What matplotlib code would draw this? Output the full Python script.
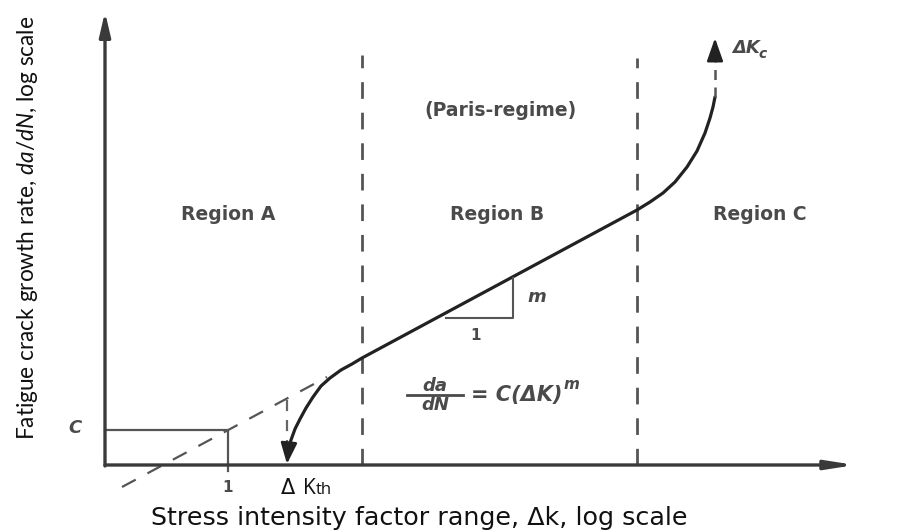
import matplotlib
matplotlib.use("Agg")
import matplotlib.pyplot as plt

# ---------------- schematic data (origin = axes intersection) ----------------
# main crack-growth curve (threshold -> Paris line -> fast fracture)
curve_x = [183, 184, 186, 190, 195, 201, 208, 216, 225, 236, 247, 257,
           532, 545, 558, 570, 582, 592, 600, 605, 608, 610]
curve_y = [12, 18, 25, 36, 46, 57, 68, 79, 87, 95, 101, 107,
           255, 263, 272, 283, 298, 314, 332, 347, 358, 368]
# extrapolated Paris line (dashed)
paris_ext_x = [17, 222]
paris_ext_y = [-22, 88]
# C at ΔK = 1
c_x = [0, 123, 123]
c_y = [35, 35, -6]
# region boundaries
boundary_ab_x = 257
boundary_bc_x = 532
boundary_top = [410, 407]
# threshold dashed marker
kth_x = 182
kth_y = [65, 4]
# ΔKc asymptote
kc_x = 610
kc_y = [368, 410]
# slope triangle
tri_x = [341, 408, 408]
tri_y = [147, 147, 187]

axis_x_end = 750
axis_y_end = 453

region_labels = ["Region A", "Region B", "Region C"]
region_x = [123, 392, 655]

plt.rcParams["mathtext.fontset"] = "custom"
plt.rcParams["mathtext.it"] = "Lato:italic"
plt.rcParams["mathtext.rm"] = "Lato"

fig = plt.figure(figsize=(9.23, 5.30), dpi=100)
ax = fig.add_axes([0, 0, 1, 1])
ax.set_xlim(-105, 818)
ax.set_ylim(-65, 465)
ax.axis("off")
fig.canvas.draw()
r = fig.canvas.get_renderer()


def right_edge(t):
    bb = t.get_window_extent(r)
    return ax.transData.inverted().transform((bb.x1, bb.y0))[0]


axc = "#3a3a3a"
# axes with arrows
ax.annotate("", xy=(axis_x_end, 0), xytext=(0, 0),
            arrowprops=dict(arrowstyle="-|>,head_length=1.4,head_width=0.22", lw=2.4,
                            color=axc, shrinkA=0, shrinkB=0, mutation_scale=12))
ax.annotate("", xy=(0, axis_y_end), xytext=(0, -1),
            arrowprops=dict(arrowstyle="-|>,head_length=1.2,head_width=0.28", lw=2.4,
                            color=axc, shrinkA=0, shrinkB=0, mutation_scale=12))

# region boundaries
dash = (0, (6, 5))
ax.plot([boundary_ab_x, boundary_ab_x], [0, boundary_top[0]], color="#555555",
        lw=2, linestyle=dash)
ax.plot([boundary_bc_x, boundary_bc_x], [0, boundary_top[1]], color="#555555",
        lw=2, linestyle=dash)

# C box
ax.plot(c_x, c_y, color="#555555", lw=1.6)
# extrapolation
ax.plot(paris_ext_x, paris_ext_y, color="#555555", lw=1.6, linestyle=(0, (7, 6)))
# threshold dashed line
ax.plot([kth_x, kth_x], kth_y, color="#666666", lw=1.6, linestyle=(0, (5, 4)))

# main curve
ax.plot(curve_x, curve_y, color="#222222", lw=2.3, solid_capstyle="round")
ax.annotate("", xy=(kth_x, 1), xytext=(curve_x[0], curve_y[0]),
            arrowprops=dict(arrowstyle="-|>,head_length=0.9,head_width=0.35", lw=2,
                            color="#222222", shrinkA=0, shrinkB=0, mutation_scale=14))
# ΔKc asymptote
ax.plot([kc_x, kc_x], kc_y, color="#555555", lw=1.8, linestyle=(0, (4, 3)))
ax.annotate("", xy=(kc_x, 427), xytext=(kc_x, 410),
            arrowprops=dict(arrowstyle="-|>,head_length=1.0,head_width=0.35", lw=1.8,
                            color="#222222", shrinkA=0, shrinkB=0, mutation_scale=14))

# slope triangle
ax.plot(tri_x, tri_y, color="#555555", lw=1.5)

txtc = "#4a4a4a"
tfont = dict(family="DejaVu Sans", fontweight="bold", color=txtc)
for lab, xx in zip(region_labels, region_x):
    ax.text(xx, 251, lab, ha="center", va="center", fontsize=13.5, **tfont)
ax.text(395, 355, "(Paris-regime)", ha="center", va="center", fontsize=13.5, **tfont)
ax.text(422, 168, "m", ha="left", va="center", fontsize=13, style="italic", **tfont)
ax.text(371, 130, "1", ha="center", va="center", fontsize=11, **tfont)
ax.text(-30, 37, "C", ha="center", va="center", fontsize=13, style="italic", **tfont)
ax.text(123, -22, "1", ha="center", va="center", fontsize=11, **tfont)
# ΔKc label
kc = ax.text(627, 412, "ΔK", ha="left", va="baseline", fontsize=13, style="italic", **tfont)
ax.text(right_edge(kc) - 1, 407, "c", ha="left", va="baseline", fontsize=10,
        style="italic", **tfont)

# Paris law equation
ax.plot([302, 358], [70, 70], color=txtc, lw=2)
ax.text(330, 74, "da", ha="center", va="baseline", fontsize=13, style="italic", **tfont)
ax.text(330, 55, "dN", ha="center", va="baseline", fontsize=13, style="italic", **tfont)
eq = ax.text(366, 64, "= C(ΔK)", ha="left", va="baseline", fontsize=15, style="italic",
             **tfont)
ax.text(right_edge(eq) + 1, 76, "m", ha="left", va="baseline", fontsize=11,
        style="italic", **tfont)

# threshold label
ax.text(183, -29, "Δ", ha="center", va="baseline", fontsize=15, family="DejaVu Sans",
        color="#111111")
kk = ax.text(198, -29, "K", ha="left", va="baseline", fontsize=15, family="Open Sans",
             color="#111111")
ax.text(right_edge(kk), -29, "th", ha="left", va="baseline", fontsize=12,
        family="Open Sans", color="#111111")

# axis titles, sized to span the reference extents
xl = ax.text(314, -60, "Stress intensity factor range, Δk, log scale", ha="center",
             va="baseline", fontsize=16, family="DejaVu Sans", color="#111111")
w = xl.get_window_extent(r).width
xl.set_fontsize(16 * 540 / w)
yl = ax.text(-77, 237, r"Fatigue crack growth rate, $\it{da/dN}$, log scale",
             ha="center", va="center", rotation=90, fontsize=16, family="Lato",
             color="#111111")
h = yl.get_window_extent(r).height
yl.set_fontsize(16 * 425 / h)

fig.savefig("out.png", dpi=100, facecolor="white")
